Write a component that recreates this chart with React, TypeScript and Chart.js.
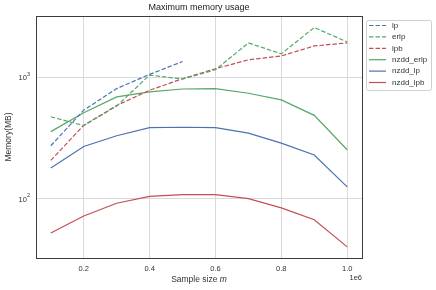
import React, { useEffect, useRef } from "react";
import { Chart, registerables } from "chart.js";

Chart.register(...registerables);

const sampleSizes = [100000, 200000, 300000, 400000, 500000, 600000, 700000, 800000, 900000, 1000000];
const lpValues = [273, 537, 808, 1058, 1352];
const erlpValues = [473, 400, 580, 1045, 969, 1156, 1923, 1563, 2576, 1959];
const lpbValues = [207, 403, 586, 783, 975, 1178, 1396, 1503, 1815, 1923];
const nzddErlpValues = [357, 511, 690, 759, 802, 808, 740, 652, 486, 253];
const nzddLpValues = [179, 269, 330, 385, 388, 385, 347, 287, 229, 125];
const nzddLpbValues = [52, 72, 91.6, 104.5, 108, 108, 100, 84, 67, 40];
const xTicks = [200000, 400000, 600000, 800000, 1000000];
const yTicks = [100, 1000];

const BLUE = "#4C72B0";
const GREEN = "#55A868";
const RED = "#C44E52";
const FONT = "'Liberation Sans', Arial, sans-serif";

function pts(vals: number[]) {
  return vals.map((v, i) => ({ x: sampleSizes[i], y: v }));
}

export default function App() {
  const ref = useRef<HTMLCanvasElement | null>(null);
  useEffect(() => {
    if (!ref.current) return;
    const dash = [4.5, 2];
    const mk = (label: string, vals: number[], color: string, dashed: boolean) => ({
      label,
      data: pts(vals),
      borderColor: color,
      backgroundColor: color,
      borderWidth: 1.2,
      borderDash: dashed ? dash : [],
      pointRadius: 0,
      tension: 0,
      fill: false,
    });
    const datasets = [
      mk("lp", lpValues, BLUE, true),
      mk("erlp", erlpValues, GREEN, true),
      mk("lpb", lpbValues, RED, true),
      mk("nzdd_erlp", nzddErlpValues, GREEN, false),
      mk("nzdd_lp", nzddLpValues, BLUE, false),
      mk("nzdd_lpb", nzddLpbValues, RED, false),
    ];

    const deco = {
      id: "deco",
      beforeDraw(chart: any) {
        const c = chart.ctx;
        c.save();
        c.fillStyle = "#fff";
        c.fillRect(0, 0, chart.width, chart.height);
        c.restore();
      },
      afterDatasetsDraw(chart: any) {
        const c = chart.ctx;
        const a = chart.chartArea;
        const xs = chart.scales.x;
        const ys = chart.scales.y;
        c.save();
        // frame
        c.strokeStyle = "#3c3c3c";
        c.lineWidth = 1;
        c.strokeRect(Math.round(a.left) + 0.5, Math.round(a.top) + 0.5, Math.round(a.right - a.left), Math.round(a.bottom - a.top));
        // title
        c.fillStyle = "#222";
        c.font = `9px ${FONT}`;
        c.textAlign = "center";
        c.textBaseline = "middle";
        c.fillText("Maximum memory usage", (a.left + a.right) / 2, 8);
        // x ticks
        c.font = `7.5px ${FONT}`;
        c.fillStyle = "#333";
        for (const t of xTicks) {
          c.fillText((t / 1e6).toFixed(1), xs.getPixelForValue(t), a.bottom + 11);
        }
        // x label
        const s1 = "Sample size ";
        c.font = `8.5px ${FONT}`;
        const w1 = c.measureText(s1).width;
        c.font = `italic 8.5px ${FONT}`;
        const w2 = c.measureText("m").width;
        const cx = (a.left + a.right) / 2;
        const sx = cx - (w1 + w2) / 2;
        c.textAlign = "left";
        c.font = `8.5px ${FONT}`;
        c.fillText(s1, sx, 280);
        c.font = `italic 8.5px ${FONT}`;
        c.fillText("m", sx + w1, 280);
        // 1e6
        c.font = `7.5px ${FONT}`;
        c.textAlign = "right";
        c.fillText("1e6", a.right, 278);
        // y ticks
        for (const t of yTicks) {
          const py = ys.getPixelForValue(t);
          const exp = String(Math.round(Math.log10(t)));
          c.font = `5.5px ${FONT}`;
          const we = c.measureText(exp).width;
          c.textAlign = "right";
          c.fillText(exp, a.left - 6, py - 3);
          c.font = `7.5px ${FONT}`;
          c.fillText("10", a.left - 6 - we, py + 1);
        }
        // y label
        c.save();
        c.translate(9, (a.top + a.bottom) / 2);
        c.rotate(-Math.PI / 2);
        c.textAlign = "center";
        c.font = `8.5px ${FONT}`;
        c.fillText("Memory(MB)", 0, 0);
        c.restore();
        // legend
        const lx = 366, ly = 20, lw = 65, lh = 70;
        c.fillStyle = "#fff";
        c.strokeStyle = "#cfcfcf";
        c.lineWidth = 1;
        c.beginPath();
        (c as any).roundRect ? (c as any).roundRect(lx + 0.5, ly + 0.5, lw, lh, 2) : c.rect(lx + 0.5, ly + 0.5, lw, lh);
        c.fill();
        c.stroke();
        c.font = `8px ${FONT}`;
        c.textAlign = "left";
        c.textBaseline = "middle";
        chart.data.datasets.forEach((d: any, i: number) => {
          const yy = 25.5 + i * 11.4;
          c.strokeStyle = d.borderColor;
          c.lineWidth = 1.2;
          c.setLineDash(d.borderDash || []);
          c.beginPath();
          c.moveTo(369, yy);
          c.lineTo(386, yy);
          c.stroke();
          c.setLineDash([]);
          c.fillStyle = "#333";
          c.fillText(d.label, 392, yy);
        });
        c.restore();
      },
    };

    const chart = new Chart(ref.current, {
      type: "line",
      data: { datasets: datasets as any },
      options: {
        animation: false,
        responsive: false,
        maintainAspectRatio: false,
        layout: { padding: { left: 36, right: 74, top: 16, bottom: 32 } },
        plugins: { legend: { display: false }, title: { display: false }, tooltip: { enabled: false } },
        scales: {
          x: {
            type: "linear",
            min: 55000,
            max: 1045000,
            afterBuildTicks: (s: any) => { s.ticks = xTicks.map((v) => ({ value: v })); },
            ticks: { display: false },
            grid: { color: "#d9d9d9", lineWidth: 1, drawTicks: false },
            border: { display: false },
          },
          y: {
            type: "logarithmic",
            min: 32.4,
            max: 3206,
            afterBuildTicks: (s: any) => { s.ticks = yTicks.map((v) => ({ value: v })); },
            ticks: { display: false },
            grid: { color: "#d9d9d9", lineWidth: 1, drawTicks: false },
            border: { display: false },
          },
        },
      } as any,
      plugins: [deco],
    });
    return () => chart.destroy();
  }, []);
  return (
    <div style={{ position: "fixed", left: 0, top: 0, width: 436, height: 290, background: "#fff" }}>
      <canvas ref={ref} width={436} height={290} style={{ width: 436, height: 290, display: "block" }} />
    </div>
  );
}
